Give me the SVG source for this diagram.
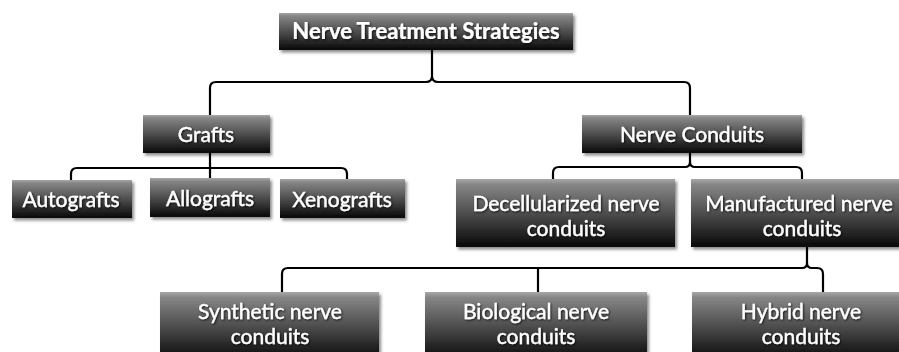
<svg xmlns="http://www.w3.org/2000/svg" width="899" height="352" viewBox="0 0 899 352">
<style>
.box{fill:url(#g);filter:url(#bs)}
.t{font-family:Lato,"Open Sans",sans-serif;font-size:21px;fill:#fff;stroke:#fff;stroke-width:0.35;text-anchor:middle;filter:url(#ts)}
.b{font-weight:bold;font-size:22px;stroke-width:0.2}
.c{fill:none;stroke:#000;stroke-width:2.2}
</style>
<defs>
<linearGradient id="g" x1="0" y1="0" x2="0" y2="1">
<stop offset="0" stop-color="#a8a8a8"/>
<stop offset="0.08" stop-color="#868686"/>
<stop offset="0.5" stop-color="#4e4e4e"/>
<stop offset="1" stop-color="#080808"/>
</linearGradient>
<filter id="bs" x="-10%" y="-20%" width="120%" height="150%">
<feDropShadow dx="2" dy="2.5" stdDeviation="1.5" flood-color="#000" flood-opacity="0.45"/>
</filter>
<filter id="ts" x="-10%" y="-30%" width="120%" height="160%">
<feDropShadow dx="1" dy="1" stdDeviation="0.8" flood-color="#000" flood-opacity="0.8"/>
</filter>
</defs>
<g id="connectors">
<path class="c" d="M432,50 V76 Q432,82 426,82 H216 Q210,82 210,88 V115"/>
<path class="c" d="M432,76 Q432,82 438,82 H684 Q690,82 690,88 V115"/>
<path class="c" d="M210,153 V179"/>
<path class="c" d="M71,180 V174 Q71,168 77,168 H341 Q347,168 347,174 V180"/>
<path class="c" d="M690,153 V162 Q690,167 685,167 H559 Q553,167 553,173 V179"/>
<path class="c" d="M690,162 Q690,167 695,167 H796 Q802,167 802,173 V179"/>
<path class="c" d="M807,247 V263 Q807,268 802,268 H288 Q282,268 282,274 V292"/>
<path class="c" d="M807,263 Q807,268 812,268 H817 Q823,268 823,274 V292"/>
<path class="c" d="M538,268 V292"/>
</g>
<g id="root"><rect class="box" x="279" y="13" width="294" height="37"/><text class="t b" x="426" y="39">Nerve Treatment Strategies</text></g>
<g id="grafts"><rect class="box" x="143" y="115" width="127" height="38"/><text class="t" x="206" y="142">Grafts</text></g>
<g id="nerve-conduits"><rect class="box" x="582" y="115" width="220" height="38"/><text class="t" x="692" y="142">Nerve Conduits</text></g>
<g id="autografts"><rect class="box" x="12" y="180" width="120" height="38"/><text class="t" x="71" y="207">Autografts</text></g>
<g id="allografts"><rect class="box" x="150" y="178" width="120" height="39"/><text class="t" x="210" y="206">Allografts</text></g>
<g id="xenografts"><rect class="box" x="280" y="179" width="125" height="39"/><text class="t" x="342" y="207">Xenografts</text></g>
<g id="decellularized"><rect class="box" x="456" y="179" width="219" height="68"/><text class="t" x="566" y="211">Decellularized nerve</text><text class="t" x="566" y="236">conduits</text></g>
<g id="manufactured"><rect class="box" x="691" y="179" width="220" height="68"/><text class="t" x="799" y="211">Manufactured nerve</text><text class="t" x="802" y="236">conduits</text></g>
<g id="synthetic"><rect class="box" x="160" y="292" width="219" height="68"/><text class="t" x="270" y="319">Synthetic nerve</text><text class="t" x="270" y="344">conduits</text></g>
<g id="biological"><rect class="box" x="425" y="292" width="222" height="68"/><text class="t" x="536" y="319">Biological nerve</text><text class="t" x="536" y="344">conduits</text></g>
<g id="hybrid"><rect class="box" x="692" y="292" width="218" height="68"/><text class="t" x="801" y="319">Hybrid nerve</text><text class="t" x="801" y="344">conduits</text></g>
</svg>
